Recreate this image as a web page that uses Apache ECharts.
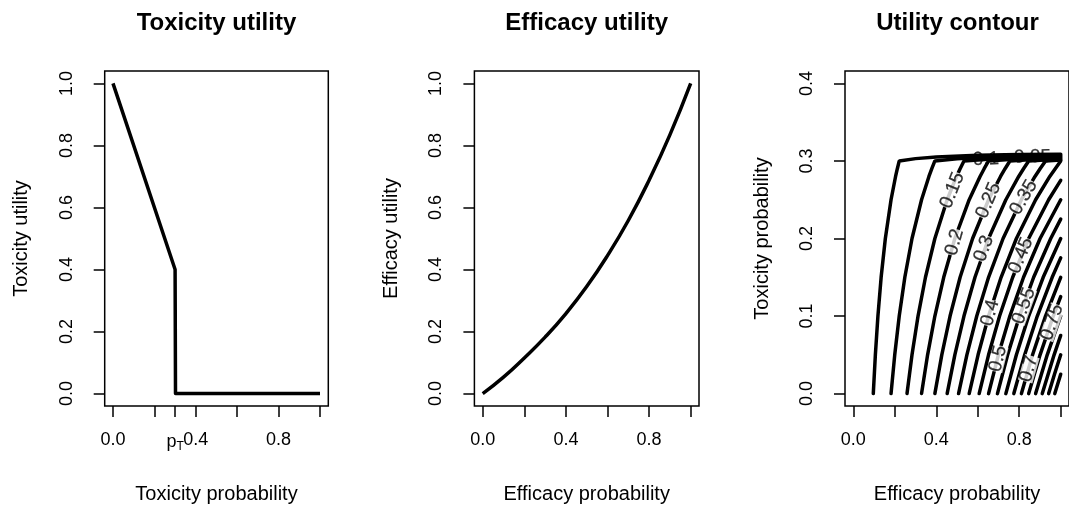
<!DOCTYPE html>
<html>
<head>
<meta charset="utf-8">
<script src="https://cdn.jsdelivr.net/npm/echarts@6/dist/echarts.min.js"></script>
<style>
  html, body { margin: 0; background: #fff; }
  #chart { width: 1069px; height: 511px; }
</style>
</head>
<body>
<div id="chart"></div>
<script>
// toxicity utility
const toxProb = [0, 0.3, 0.302, 1];
const toxUtil = [1, 0.4, 0, 0];

// efficacy utility
const effProb = [0, 0.1, 0.2, 0.3, 0.4, 0.5, 0.6, 0.7, 0.8, 0.9, 1];
const effUtil = [0, 0.053, 0.115, 0.182, 0.258, 0.345, 0.445, 0.558, 0.688, 0.834, 1];

// contour lines, [efficacy prob, toxicity prob], levels 0.05 .. 0.95
const contourLevels = [0.05, 0.1, 0.15, 0.2, 0.25, 0.3, 0.35, 0.4, 0.45, 0.5,
                       0.55, 0.6, 0.65, 0.7, 0.75, 0.8, 0.85, 0.9, 0.95];
const contourLines = [
  [[0.0964,0],[0.1064,0.05],[0.1187,0.1],[0.1342,0.15],[0.1545,0.2],[0.182,0.25],[0.2038,0.28],[0.2123,0.29],[0.2215,0.3],[0.3,0.303],[0.4,0.3051],[0.6,0.3072],[0.8,0.3082],[1,0.3088]],
  [[0.182,0],[0.1998,0.05],[0.2215,0.1],[0.2485,0.15],[0.2831,0.2],[0.3291,0.25],[0.3647,0.28],[0.3785,0.29],[0.3933,0.3],[0.5,0.3027],[0.6,0.3044],[0.8,0.3064],[1,0.3075]],
  [[0.259,0],[0.2831,0.05],[0.3122,0.1],[0.348,0.15],[0.3933,0.2],[0.4525,0.25],[0.4978,0.28],[0.515,0.29],[0.5336,0.3],[0.7,0.3033],[0.85,0.305],[1,0.3063]],
  [[0.3291,0],[0.3583,0.05],[0.3933,0.1],[0.436,0.15],[0.4896,0.2],[0.5588,0.25],[0.6112,0.28],[0.631,0.29],[0.6522,0.3],[0.8,0.3027],[1,0.305]],
  [[0.3933,0],[0.4267,0.05],[0.4666,0.1],[0.515,0.15],[0.5752,0.2],[0.6522,0.25],[0.71,0.28],[0.7317,0.29],[0.755,0.3],[0.9,0.3025],[1,0.3038]],
  [[0.4525,0],[0.4896,0.05],[0.5336,0.1],[0.5867,0.15],[0.6522,0.2],[0.7355,0.25],[0.7975,0.28],[0.8208,0.29],[0.8456,0.3],[1,0.3025]],
  [[0.5075,0],[0.5477,0.05],[0.5953,0.1],[0.6522,0.15],[0.7222,0.2],[0.8106,0.25],[0.8761,0.28],[0.9006,0.29],[0.9267,0.3],[1,0.3013]],
  [[0.5588,0],[0.6017,0.05],[0.6522,0.1],[0.7126,0.15],[0.7864,0.2],[0.8791,0.25],[0.9474,0.28],[1,0.3]],
  [[0.6069,0],[0.6522,0.05],[0.7053,0.1],[0.7686,0.15],[0.8456,0.2],[0.9419,0.25],[1,0.275]],
  [[0.6522,0],[0.6996,0.05],[0.755,0.1],[0.8208,0.15],[0.9006,0.2],[1,0.25]],
  [[0.695,0],[0.7442,0.05],[0.8016,0.1],[0.8696,0.15],[0.9519,0.2],[1,0.225]],
  [[0.7355,0],[0.7864,0.05],[0.8456,0.1],[0.9156,0.15],[1,0.2]],
  [[0.774,0],[0.8264,0.05],[0.8872,0.1],[0.9589,0.15],[1,0.175]],
  [[0.8106,0],[0.8644,0.05],[0.9267,0.1],[1,0.15]],
  [[0.8456,0],[0.9006,0.05],[0.9642,0.1],[1,0.125]],
  [[0.8791,0],[0.9351,0.05],[1,0.1]],
  [[0.9111,0],[0.9682,0.05],[1,0.075]],
  [[0.9419,0],[0.97,0.025],[1,0.05]],
  [[0.9715,0],[1,0.025]]
];

// contour labels
const contourLabelText  = ['0.05', '0.1', '0.15', '0.2', '0.25', '0.3', '0.35', '0.4', '0.45', '0.5', '0.55', '0.7', '0.75'];
const contourLabelPos   = [[0.864,0.305],[0.64,0.302],[0.478,0.262],[0.488,0.195],[0.652,0.249],[0.630,0.187],[0.822,0.253],
                           [0.66,0.104],[0.808,0.178],[0.698,0.045],[0.822,0.113],[0.846,0.032],[0.958,0.092]];
const contourLabelAngle = [1, 2, 68, 74, 67, 70, 60, 75, 67, 76, 70, 74, 71];

// ticks
const unitTicks  = [0, 0.2, 0.4, 0.6, 0.8, 1];
const toxTicks   = [0, 0.2, 0.3, 0.4, 0.6, 0.8, 1];
const toxXLabels = [0, 0.3, 0.4, 0.8];
const sparseLabs = [0, 0.4, 0.8];
const contTicksY = [0, 0.1, 0.2, 0.3, 0.4];

const FONT = "'Liberation Sans', Arial, sans-serif";
const chart = echarts.init(document.getElementById("chart"), null, { renderer: "canvas" });

const grids = [
  { left: 104.7, top: 71, width: 223.6, height: 335 },
  { left: 474.4, top: 71, width: 224.6, height: 335 },
  { left: 845.0, top: 71, width: 225.1, height: 335 }
];

function xAxis(gi, ticks, labels, name, fmt) {
  return {
    type: "value", gridIndex: gi, min: -0.04, max: 1.04,
    splitLine: { show: false },
    axisLine: { show: false, onZero: false },
    axisTick: { show: true, length: 11, customValues: ticks, lineStyle: { color: "#000", width: 1.5 } },
    axisLabel: {
      customValues: labels, color: "#000", fontSize: 18, fontFamily: FONT, margin: 25,
      formatter: fmt || (v => v.toFixed(1)),
      rich: {
        p: { fontSize: 18, fontFamily: FONT, color: "#000" },
        t: { fontSize: 12, fontFamily: FONT, color: "#000", padding: [10, 0, 0, 0] }
      }
    },
    name: name, nameLocation: "middle", nameGap: 78,
    nameTextStyle: { color: "#000", fontSize: 20, fontFamily: FONT }
  };
}

function yAxis(gi, min, max, ticks, name) {
  return {
    type: "value", gridIndex: gi, min: min, max: max,
    splitLine: { show: false },
    axisLine: { show: false, onZero: false },
    axisTick: { show: true, length: 11, customValues: ticks, lineStyle: { color: "#000", width: 1.5 } },
    axisLabel: {
      customValues: ticks, rotate: 90, color: "#000", fontSize: 18, fontFamily: FONT, margin: 29,
      formatter: v => v.toFixed(1)
    },
    name: name, nameLocation: "middle", nameGap: 73, nameRotate: 90,
    nameTextStyle: { color: "#000", fontSize: 20, fontFamily: FONT }
  };
}

const lineBase = { type: "line", symbol: "none", silent: true, animation: false };

const series = [
  Object.assign({}, lineBase, {
    xAxisIndex: 0, yAxisIndex: 0,
    lineStyle: { color: "#000", width: 3.5, join: "round" },
    data: toxProb.map((p, i) => [p, toxUtil[i]])
  }),
  Object.assign({}, lineBase, {
    xAxisIndex: 1, yAxisIndex: 1, smooth: true,
    lineStyle: { color: "#000", width: 3.5 },
    data: effProb.map((p, i) => [p, effUtil[i]])
  })
];

contourLines.forEach((pts, i) => {
  series.push(Object.assign({}, lineBase, {
    name: String(contourLevels[i]),
    xAxisIndex: 2, yAxisIndex: 2,
    lineStyle: { color: "#000", width: 3.5, cap: "round" },
    data: pts
  }));
});

series.push({
  type: "scatter", xAxisIndex: 2, yAxisIndex: 2, z: 5, silent: true, animation: false,
  symbolSize: 0, itemStyle: { color: "#000" },
  data: contourLabelText.map((t, i) => ({
    name: t,
    value: contourLabelPos[i],
    label: {
      show: true, formatter: "{b}", position: "inside", rotate: contourLabelAngle[i],
      color: "#000", fontSize: 19, fontFamily: FONT, lineHeight: 15,
      textBorderColor: "#000", textBorderWidth: 0.25, textShadowBlur: 0,
      backgroundColor: contourLabelAngle[i] > 10 ? "#fff" : "transparent", padding: 0
    }
  }))
});

const option = {
  backgroundColor: "#fff",
  animation: false,
  grid: grids.map(g => Object.assign({ show: true, borderColor: "#000", borderWidth: 1.5, backgroundColor: "transparent" }, g)),
  xAxis: [
    xAxis(0, toxTicks, toxXLabels, "Toxicity probability",
      v => (Math.abs(v - 0.3) < 1e-9 ? "{p|p}{t|T}" : v.toFixed(1))),
    xAxis(1, unitTicks, sparseLabs, "Efficacy probability"),
    xAxis(2, unitTicks, sparseLabs, "Efficacy probability")
  ],
  yAxis: [
    yAxis(0, -0.04, 1.04, unitTicks, "Toxicity utility"),
    yAxis(1, -0.04, 1.04, unitTicks, "Efficacy utility"),
    yAxis(2, -0.016, 0.416, contTicksY, "Toxicity probability")
  ],
  graphic: [
    { type: "text", x: 216.5, y: 23, style: { text: "Toxicity utility", font: "bold 24px " + FONT, fill: "#000", textAlign: "center", textVerticalAlign: "middle" } },
    { type: "text", x: 586.7, y: 23, style: { text: "Efficacy utility", font: "bold 24px " + FONT, fill: "#000", textAlign: "center", textVerticalAlign: "middle" } },
    { type: "text", x: 957.5, y: 23, style: { text: "Utility contour", font: "bold 24px " + FONT, fill: "#000", textAlign: "center", textVerticalAlign: "middle" } }
  ],
  series: series
};

chart.setOption(option);
</script>
</body>
</html>
